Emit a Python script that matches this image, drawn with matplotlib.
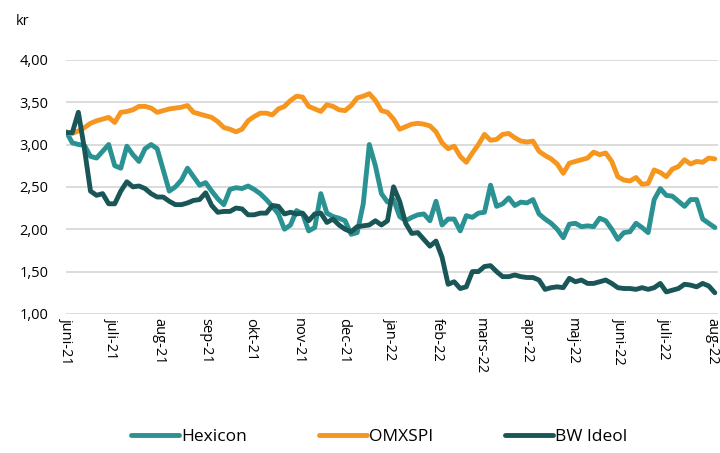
import matplotlib
matplotlib.use('Agg')
import matplotlib.pyplot as plt
import matplotlib.ticker as mticker
import pandas as pd

plt.rcParams['font.family'] = ['Open Sans', 'DejaVu Sans']

# every 4th day from 1 June 2021
dates = pd.date_range('2021-06-01', '2022-08-03', freq='4D')

hexicon = [
    3.15, 3.02, 3.00, 2.99, 2.86, 2.84, 2.92, 3.00, 2.75, 2.72, 2.98, 2.88, 2.80, 2.95, 3.00, 2.95,
    2.70, 2.45, 2.50, 2.58, 2.72, 2.62, 2.52, 2.55, 2.45, 2.36, 2.29, 2.47, 2.49, 2.48, 2.51, 2.47,
    2.42, 2.35, 2.27, 2.18, 2.00, 2.05, 2.22, 2.18, 1.98, 2.02, 2.42, 2.19, 2.15, 2.13, 2.10, 1.94,
    1.96, 2.30, 3.00, 2.75, 2.42, 2.32, 2.35, 2.15, 2.10, 2.14, 2.17, 2.18, 2.10, 2.33, 2.05, 2.12,
    2.12, 1.98, 2.16, 2.14, 2.19, 2.20, 2.52, 2.27, 2.30, 2.37, 2.28, 2.32, 2.31, 2.35, 2.18, 2.12,
    2.07, 2.00, 1.90, 2.06, 2.07, 2.03, 2.04, 2.03, 2.13, 2.10, 2.00, 1.88, 1.96, 1.97, 2.07, 2.02,
    1.96, 2.35, 2.48, 2.40, 2.39, 2.33, 2.27, 2.35, 2.35, 2.12, 2.07, 2.02,
]

omxspi = [
    3.14, 3.13, 3.16, 3.20, 3.25, 3.28, 3.30, 3.32, 3.26, 3.38, 3.39, 3.41, 3.45, 3.45, 3.43, 3.38,
    3.40, 3.42, 3.43, 3.44, 3.46, 3.38, 3.36, 3.34, 3.32, 3.27, 3.20, 3.18, 3.15, 3.18, 3.28, 3.33,
    3.37, 3.37, 3.35, 3.42, 3.45, 3.52, 3.57, 3.56, 3.45, 3.42, 3.39, 3.47, 3.45, 3.41, 3.40, 3.46,
    3.55, 3.57, 3.60, 3.52, 3.40, 3.38, 3.30, 3.18, 3.21, 3.24, 3.25, 3.24, 3.22, 3.15, 3.02, 2.95,
    2.98, 2.86, 2.79, 2.90, 3.00, 3.12, 3.05, 3.06, 3.12, 3.13, 3.08, 3.04, 3.03, 3.04, 2.92, 2.87,
    2.83, 2.77, 2.66, 2.78, 2.80, 2.82, 2.84, 2.91, 2.88, 2.90, 2.80, 2.62, 2.58, 2.57, 2.61, 2.53,
    2.54, 2.70, 2.67, 2.62, 2.71, 2.74, 2.82, 2.77, 2.80, 2.79, 2.84, 2.83,
]

bw_ideol = [
    3.14, 3.14, 3.38, 2.95, 2.45, 2.40, 2.42, 2.30, 2.30, 2.45, 2.56, 2.50, 2.51, 2.48, 2.42, 2.38,
    2.38, 2.33, 2.29, 2.29, 2.31, 2.34, 2.35, 2.43, 2.28, 2.20, 2.21, 2.21, 2.25, 2.24, 2.17, 2.17,
    2.19, 2.19, 2.28, 2.27, 2.18, 2.20, 2.18, 2.19, 2.10, 2.18, 2.19, 2.08, 2.12, 2.05, 2.00, 1.97,
    2.03, 2.04, 2.05, 2.10, 2.05, 2.10, 2.50, 2.33, 2.07, 1.95, 1.96, 1.88, 1.80, 1.86, 1.67, 1.35,
    1.38, 1.30, 1.32, 1.50, 1.50, 1.56, 1.57, 1.50, 1.44, 1.44, 1.46, 1.44, 1.43, 1.43, 1.40, 1.29,
    1.31, 1.32, 1.31, 1.42, 1.38, 1.40, 1.36, 1.36, 1.38, 1.40, 1.36, 1.31, 1.30, 1.30, 1.29, 1.31,
    1.29, 1.31, 1.36, 1.26, 1.28, 1.30, 1.35, 1.34, 1.32, 1.36, 1.33, 1.25,
]

tick_dates = pd.date_range('2021-06-01', '2022-08-01', freq='MS')
tick_labels = ['juni-21', 'juli-21', 'aug-21', 'sep-21', 'okt-21', 'nov-21', 'dec-21', 'jan-22',
               'feb-22', 'mars-22', 'apr-22', 'maj-22', 'juni-22', 'juli-22', 'aug-22']

fig = plt.figure(figsize=(7.2, 4.53), dpi=100)
ax = fig.add_axes([0.092, 0.307, 0.905, 0.561])

lw = 3.5
style = dict(lw=lw, solid_joinstyle='round', solid_capstyle='round')
ax.plot(dates, hexicon, color='#2A9292', label='Hexicon', **style)
ax.plot(dates, omxspi, color='#F7961E', label='OMXSPI', **style)
ax.plot(dates, bw_ideol, color='#1A5657', label='BW Ideol', **style)

ax.set_ylim(1.0, 4.0)
ax.set_yticks([1.0, 1.5, 2.0, 2.5, 3.0, 3.5, 4.0])
ax.yaxis.set_major_formatter(mticker.FuncFormatter(lambda v, p: f'{v:.2f}'.replace('.', ',')))
ax.set_xlim(dates[0], pd.Timestamp('2022-08-05'))
ax.set_xticks(tick_dates)
ax.set_xticklabels(tick_labels, rotation=-90, ha='center', va='top')

ax.grid(axis='y', color='#D9D9D9', lw=1.3)
ax.set_axisbelow(True)
for s in ax.spines.values():
    s.set_visible(False)
ax.tick_params(axis='both', length=0, labelsize=10.5, colors='#000000')
ax.tick_params(axis='y', pad=13)
ax.tick_params(axis='x', pad=3)

fig.text(0.022, 0.952, 'kr', fontsize=10.5, va='center', ha='left')

ax.legend(loc='center', bbox_to_anchor=(0.48, -0.485), ncol=3, frameon=False,
          fontsize=12.5, handlelength=2.75, handletextpad=0.12, columnspacing=4.15)

fig.savefig('out.png', dpi=100)
plt.close(fig)
